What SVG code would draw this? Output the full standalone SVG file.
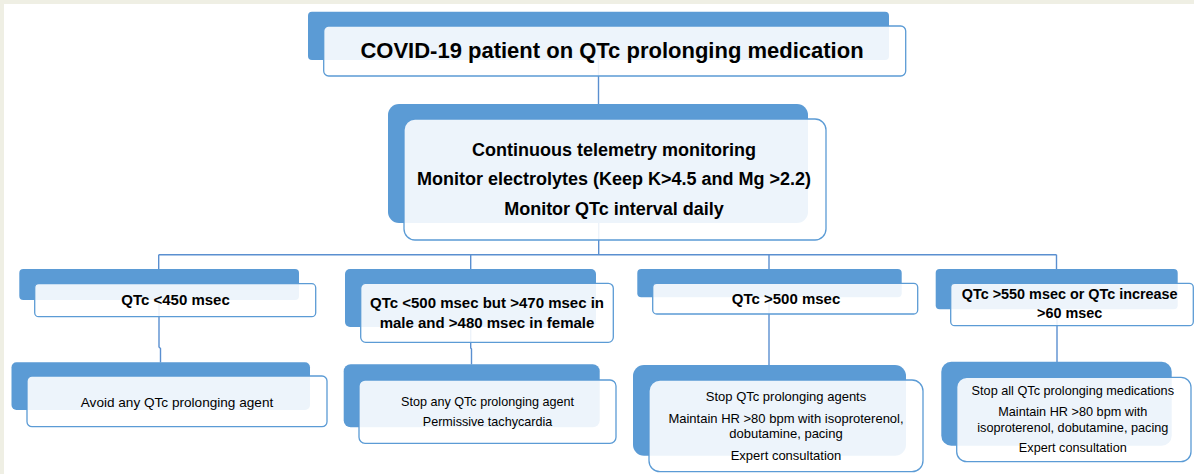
<svg xmlns="http://www.w3.org/2000/svg" width="1194" height="474" viewBox="0 0 1194 474">
<defs>
<style>
.bg{fill:#ffffff}
.strip{fill:#efefe4}
.back{fill:#5b9bd5}
.front{fill:#ffffff;fill-opacity:0.89;stroke:#5b9bd5;stroke-width:1.3}
.conn{fill:none;stroke:#5a8fd0;stroke-width:1.4}
.t{font-family:"Liberation Sans",Arial,sans-serif;fill:#000;text-anchor:middle}
.b{font-weight:bold}
</style>
</defs>
<rect class="bg" x="0" y="0" width="1194" height="474"/>
<rect class="strip" x="0" y="0" width="1194" height="4"/>
<rect class="strip" x="0" y="0" width="4" height="474"/>

<g id="connectors">
<path class="conn" d="M598.5 60 V104"/>
<path class="conn" d="M598.7 223 V254.7"/>
<path class="conn" d="M158.7 254.7 H1056.5"/>
<path class="conn" d="M158.7 254.7 V269"/>
<path class="conn" d="M470.7 254.7 V269"/>
<path class="conn" d="M769 254.7 V269"/>
<path class="conn" d="M1056.5 254.7 V269"/>
<path class="conn" d="M159 300 V347 L160.5 348.5 V362.5"/>
<path class="conn" d="M470.7 327 V348 L471.5 349 V364.5"/>
<path class="conn" d="M769 297 V365"/>
<path class="conn" d="M1057 309 V362"/>
</g>

<g id="node-top">
<rect class="back" x="308" y="11.7" width="581" height="48.3" rx="4"/>
<rect class="front" x="323.7" y="26" width="582" height="50" rx="5"/>
<text class="t b" x="612" y="58" font-size="22">COVID-19 patient on QTc prolonging medication</text>
</g>

<g id="node-monitor">
<rect class="back" x="388" y="104" width="420" height="119" rx="11"/>
<rect class="front" x="404" y="119" width="422" height="121" rx="11"/>
<text class="t b" x="614" y="155.5" font-size="18">Continuous telemetry monitoring</text>
<text class="t b" x="614" y="185" font-size="18">Monitor electrolytes (Keep K&gt;4.5 and Mg &gt;2.2)</text>
<text class="t b" x="614" y="214.5" font-size="18">Monitor QTc interval daily</text>
</g>

<g id="node-qtc450">
<rect class="back" x="19.3" y="269" width="279.7" height="31" rx="4"/>
<rect class="front" x="34.7" y="283.7" width="281" height="33" rx="4"/>
<text class="t b" x="175.5" y="305" font-size="15">QTc &lt;450 msec</text>
</g>

<g id="node-qtc500-470">
<rect class="back" x="345" y="269" width="251" height="58" rx="5"/>
<rect class="front" x="360.7" y="283.3" width="252.6" height="59" rx="5"/>
<text class="t b" x="487" y="308.3" font-size="15">QTc &lt;500 msec but &gt;470 msec in</text>
<text class="t b" x="487" y="328.3" font-size="15">male and &gt;480 msec in female</text>
</g>

<g id="node-qtc500">
<rect class="back" x="637.3" y="269" width="264.4" height="28.3" rx="4"/>
<rect class="front" x="652.7" y="283.3" width="265" height="30.7" rx="4"/>
<text class="t b" x="786" y="304.3" font-size="15">QTc &gt;500 msec</text>
</g>

<g id="node-qtc550">
<rect class="back" x="935.7" y="269" width="242" height="40.3" rx="4"/>
<rect class="front" x="950.7" y="283.3" width="242.6" height="42.4" rx="4"/>
<text class="t b" x="1069.7" y="299" font-size="14.4">QTc &gt;550 msec or QTc increase</text>
<text class="t b" x="1069.7" y="318.3" font-size="14.4">&gt;60 msec</text>
</g>

<g id="node-avoid">
<rect class="back" x="11.5" y="362.3" width="298.5" height="47.7" rx="5"/>
<rect class="front" x="27" y="376" width="300" height="50.7" rx="5"/>
<text class="t" x="177" y="406.5" font-size="13.6">Avoid any QTc prolonging agent</text>
</g>

<g id="node-stop-any">
<rect class="back" x="343.7" y="364.3" width="256" height="63" rx="7"/>
<rect class="front" x="359" y="380" width="257" height="63.3" rx="6"/>
<text class="t" x="487.5" y="405.5" font-size="12.6">Stop any QTc prolonging agent</text>
<text class="t" x="487.5" y="426" font-size="12.6">Permissive tachycardia</text>
</g>

<g id="node-stop-agents">
<rect class="back" x="633" y="365" width="273" height="90.7" rx="11"/>
<rect class="front" x="649" y="380" width="274" height="91.7" rx="11"/>
<text class="t" x="786" y="401" font-size="13">Stop QTc prolonging agents</text>
<text class="t" x="786" y="423" font-size="13">Maintain HR &gt;80 bpm with isoproterenol,</text>
<text class="t" x="786" y="438" font-size="13">dobutamine, pacing</text>
<text class="t" x="786" y="459.5" font-size="13">Expert consultation</text>
</g>

<g id="node-stop-all">
<rect class="back" x="941.3" y="361.7" width="230.4" height="84" rx="10"/>
<rect class="front" x="956.7" y="377.3" width="234.3" height="84.4" rx="10"/>
<text class="t" x="1072.8" y="394.5" font-size="12.7">Stop all QTc prolonging medications</text>
<text class="t" x="1072.8" y="416" font-size="12.7">Maintain HR &gt;80 bpm with</text>
<text class="t" x="1072.8" y="432" font-size="12.7">isoproterenol, dobutamine, pacing</text>
<text class="t" x="1072.8" y="452" font-size="12.7">Expert consultation</text>
</g>
</svg>
